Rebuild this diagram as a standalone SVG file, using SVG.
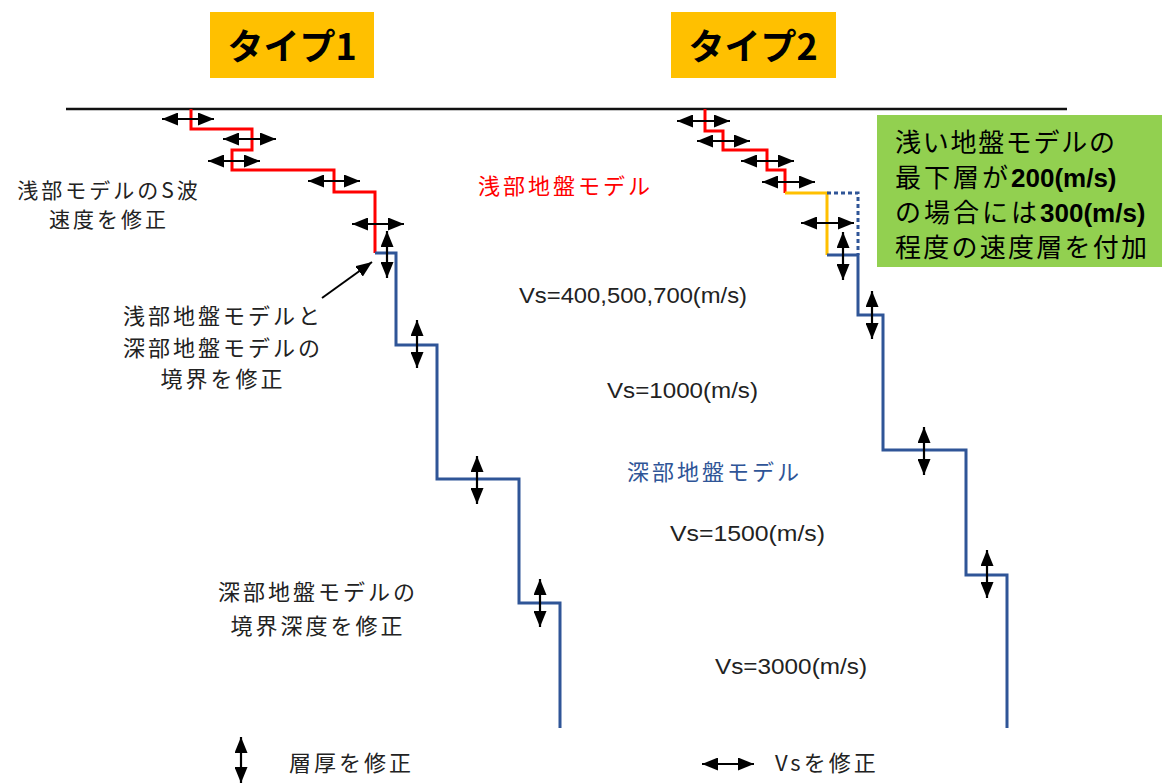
<svg xmlns="http://www.w3.org/2000/svg" width="1167" height="784" viewBox="0 0 1167 784">
<style>
.jp{font-family:"Noto Sans CJK JP","Noto Sans CJK SC",sans-serif;fill:#222;}
.vs{font-family:"Liberation Sans","Noto Sans CJK JP",sans-serif;font-size:22px;fill:#222;}
.arr{stroke:#000;stroke-width:2.2;fill:none;marker-start:url(#ah);marker-end:url(#ah);}
.red{stroke:#FF0000;stroke-width:3;fill:none;}
.blu{stroke:#2F5597;stroke-width:3;fill:none;}
.yel{stroke:#FFC000;stroke-width:3;fill:none;}
.dot{stroke:#2F5597;stroke-width:3;fill:none;stroke-dasharray:4 3;}
.num{font-family:"Liberation Sans",sans-serif;font-weight:bold;}
</style>
<defs>
<marker id="ah" markerUnits="userSpaceOnUse" markerWidth="16" markerHeight="13" refX="16" refY="6.5" orient="auto-start-reverse">
<path d="M0,0 L16,6.5 L0,13 z" fill="#000"/>
</marker>
<marker id="ah2" markerUnits="userSpaceOnUse" markerWidth="16" markerHeight="13" refX="16" refY="6.5" orient="auto">
<path d="M0,0 L16,6.5 L0,13 z" fill="#000"/>
</marker>
</defs>
<rect width="1167" height="784" fill="#fff"/>

<g id="title1">
<rect x="210" y="12" width="164" height="66" fill="#FFC000"/>
<text class="jp" x="292" y="60" font-size="36" font-weight="bold" text-anchor="middle" style="fill:#000">タイプ1</text>
</g>
<g id="title2">
<rect x="671" y="12" width="165" height="66" fill="#FFC000"/>
<text class="jp" x="753" y="60" font-size="36" font-weight="bold" text-anchor="middle" style="fill:#000">タイプ2</text>
</g>

<g id="surface">
<line x1="66" y1="109" x2="1067" y2="109" stroke="#111" stroke-width="2.5"/>
</g>

<g id="type1-profile">
<path class="red" d="M191,109 V129 H252 V150 H232 V170 H334 V192 H375 V253"/>
<path class="blu" d="M375,253 H396 V345 H437 V479 H519 V603 H560 V728"/>
</g>
<g id="type2-profile">
<path class="red" d="M705,109 V131 H723 V150 H767 V170 H785 V193"/>
<path class="yel" d="M785,193 H827 V255"/>
<path class="dot" d="M827,193 H858 V255"/>
<path class="blu" d="M827,255 H858 V315 H883 V450 H966 V575 H1007 V728"/>
</g>

<g id="connectors">
<line class="arr" x1="162" y1="119" x2="214" y2="119"/>
<line class="arr" x1="223" y1="139" x2="276" y2="139"/>
<line class="arr" x1="208" y1="161" x2="260" y2="161"/>
<line class="arr" x1="308" y1="181" x2="360" y2="181"/>
<line class="arr" x1="352" y1="224" x2="404" y2="224"/>
<line class="arr" x1="387" y1="231" x2="387" y2="278"/>
<line class="arr" x1="417" y1="320" x2="417" y2="368"/>
<line class="arr" x1="477" y1="456" x2="477" y2="504"/>
<line class="arr" x1="540" y1="579" x2="540" y2="627"/>

<line class="arr" x1="677" y1="121" x2="730" y2="121"/>
<line class="arr" x1="697" y1="141" x2="750" y2="141"/>
<line class="arr" x1="741" y1="161" x2="794" y2="161"/>
<line class="arr" x1="762" y1="182" x2="815" y2="182"/>
<line class="arr" x1="801" y1="223" x2="854" y2="223"/>
<line class="arr" x1="843" y1="232" x2="843" y2="280"/>
<line class="arr" x1="872" y1="291" x2="872" y2="339"/>
<line class="arr" x1="924" y1="427" x2="924" y2="475"/>
<line class="arr" x1="987" y1="550" x2="987" y2="598"/>

<line x1="322" y1="298" x2="372" y2="262" stroke="#000" stroke-width="2" marker-end="url(#ah2)"/>

<line class="arr" x1="241" y1="737" x2="241" y2="783"/>
<line class="arr" x1="702" y1="764" x2="754" y2="764"/>
</g>

<g id="label-shallow-vs">
<text class="jp" font-size="21" letter-spacing="3" x="109" y="198" text-anchor="middle">浅部モデルのS波</text>
<text class="jp" font-size="21" letter-spacing="3" x="109" y="227" text-anchor="middle">速度を修正</text>
</g>
<g id="label-boundary">
<text class="jp" font-size="22" letter-spacing="3" x="223" y="324" text-anchor="middle">浅部地盤モデルと</text>
<text class="jp" font-size="22" letter-spacing="3" x="223" y="356" text-anchor="middle">深部地盤モデルの</text>
<text class="jp" font-size="22" letter-spacing="3" x="223" y="387" text-anchor="middle">境界を修正</text>
</g>
<g id="label-deep-boundary">
<text class="jp" font-size="22" letter-spacing="3" x="318" y="600" text-anchor="middle">深部地盤モデルの</text>
<text class="jp" font-size="22" letter-spacing="3" x="318" y="634" text-anchor="middle">境界深度を修正</text>
</g>

<g id="label-shallow-model">
<text class="jp" font-size="22" letter-spacing="3" x="478" y="194" style="fill:#FF0000">浅部地盤モデル</text>
</g>
<g id="label-deep-model">
<text class="jp" font-size="22" letter-spacing="3" x="627" y="480" style="fill:#2F5597">深部地盤モデル</text>
</g>

<g id="vs-labels">
<text class="vs" x="519" y="303" textLength="228" lengthAdjust="spacingAndGlyphs">Vs=400,500,700(m/s)</text>
<text class="vs" x="607" y="398" textLength="151" lengthAdjust="spacingAndGlyphs">Vs=1000(m/s)</text>
<text class="vs" x="670" y="541" textLength="155" lengthAdjust="spacingAndGlyphs">Vs=1500(m/s)</text>
<text class="vs" x="715" y="674" textLength="152" lengthAdjust="spacingAndGlyphs">Vs=3000(m/s)</text>
</g>

<g id="note">
<rect x="877" y="115" width="285" height="152" fill="#92D050"/>
<text class="jp" font-size="26" x="895" y="152" textLength="220" style="fill:#000">浅い地盤モデルの</text>
<text class="jp" font-size="26" x="895" y="187" style="fill:#000"><tspan letter-spacing="3">最下層が</tspan><tspan class="num">200(m/s)</tspan></text>
<text class="jp" font-size="26" x="895" y="222" style="fill:#000"><tspan letter-spacing="3">の場合には</tspan><tspan class="num">300(m/s)</tspan></text>
<text class="jp" font-size="26" x="895" y="257" textLength="252" style="fill:#000">程度の速度層を付加</text>
</g>

<g id="legend">
<text class="jp" font-size="22" letter-spacing="3" x="289" y="771">層厚を修正</text>
<text class="jp" font-size="22" letter-spacing="3" x="775" y="771">Vsを修正</text>
</g>
</svg>
